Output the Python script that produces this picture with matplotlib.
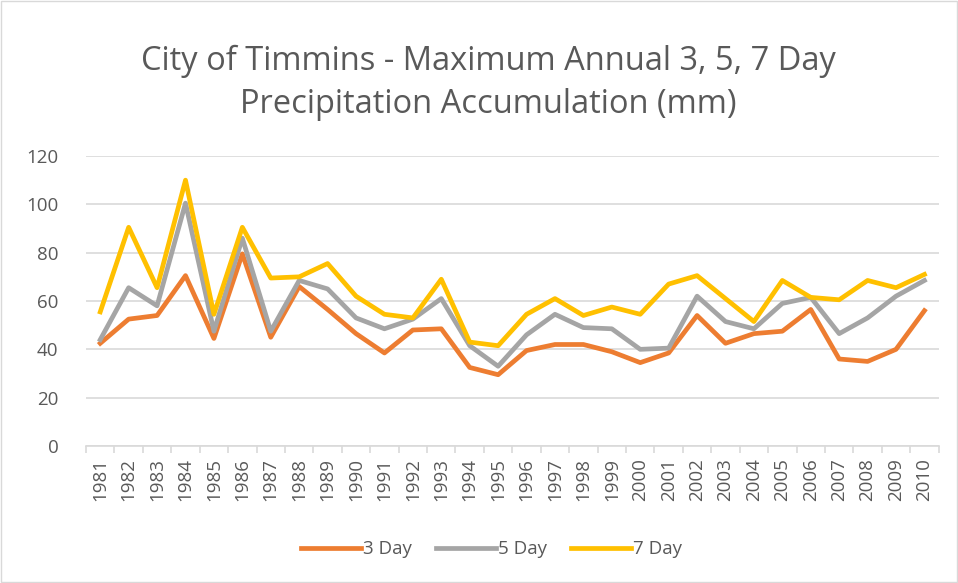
import matplotlib.pyplot as plt
import numpy as np

years = [str(y) for y in range(1981, 2011)]
day3 = [42.5, 52.5, 54, 70.5, 44.5, 79.5, 45, 66, 56.5, 46.5, 38.5, 48, 48.5, 32.5, 29.5,
        39.5, 42, 42, 39, 34.5, 38.5, 54, 42.5, 46.5, 47.5, 56.5, 36, 35, 40, 56]
day5 = [44, 65.5, 58, 100.5, 47.5, 86, 47.5, 68.5, 65, 53, 48.5, 52.5, 61, 41.5, 33,
        46, 54.5, 49, 48.5, 40, 40.5, 62, 51.5, 48.5, 59, 61.5, 46.5, 53, 62, 68.5]
day7 = [55.5, 90.5, 65.5, 110, 54.5, 90.5, 69.5, 70, 75.5, 62, 54.5, 53, 69, 43, 41.5,
        54.5, 61, 54, 57.5, 54.5, 67, 70.5, 61, 51.5, 68.5, 61.5, 60.5, 68.5, 65.5, 71]

plt.rcParams['font.family'] = ['Open Sans', 'DejaVu Sans']
txt = '#595959'
grid = '#D9D9D9'

fig = plt.figure(figsize=(9.58, 5.83), dpi=100)
ax = fig.add_axes([0.0898, 0.235, 0.890, 0.4974])

x = np.arange(len(years))
ax.plot(x, day3, color='#ED7D31', lw=3.4, label='3 Day', solid_joinstyle='round')
ax.plot(x, day5, color='#A5A5A5', lw=3.4, label='5 Day', solid_joinstyle='round')
ax.plot(x, day7, color='#FFC000', lw=3.4, label='7 Day', solid_joinstyle='round')

ax.set_xlim(-0.5, len(years) - 0.5)
ax.set_ylim(0, 120)
ax.set_yticks(range(0, 121, 20))
ax.yaxis.grid(True, color=grid, lw=1.2)
ax.set_axisbelow(True)
for s in ['top', 'right', 'left']:
    ax.spines[s].set_visible(False)
ax.spines['bottom'].set_color(grid)
ax.spines['bottom'].set_linewidth(1.2)

ax.set_xticks(x)
ax.set_xticklabels(years, rotation=90)
ax.set_xticks(np.arange(-0.5, len(years), 1), minor=True)
ax.tick_params(axis='x', which='major', length=0, pad=9, labelsize=13.5, labelcolor=txt)
ax.tick_params(axis='x', which='minor', length=5, color=grid, width=1.2)
ax.tick_params(axis='y', length=0, pad=20, labelsize=13.5, labelcolor=txt)

fig.text(0.510, 0.894, 'City of Timmins - Maximum Annual 3, 5, 7 Day', ha='center', va='center',
         fontsize=23.5, color=txt)
fig.text(0.510, 0.821, 'Precipitation Accumulation (mm)', ha='center', va='center',
         fontsize=23.5, color=txt)

fig.legend(loc='center', bbox_to_anchor=(0.513, 0.058), ncol=3, frameon=False, fontsize=13.5,
           labelcolor=txt, handlelength=3.2, handletextpad=0.1, columnspacing=1.3)

fig.patches.append(plt.Rectangle((0.001, 0.001), 0.998, 0.998, transform=fig.transFigure,
                                 fill=False, edgecolor=grid, lw=1))

fig.savefig('out.png', dpi=100)
